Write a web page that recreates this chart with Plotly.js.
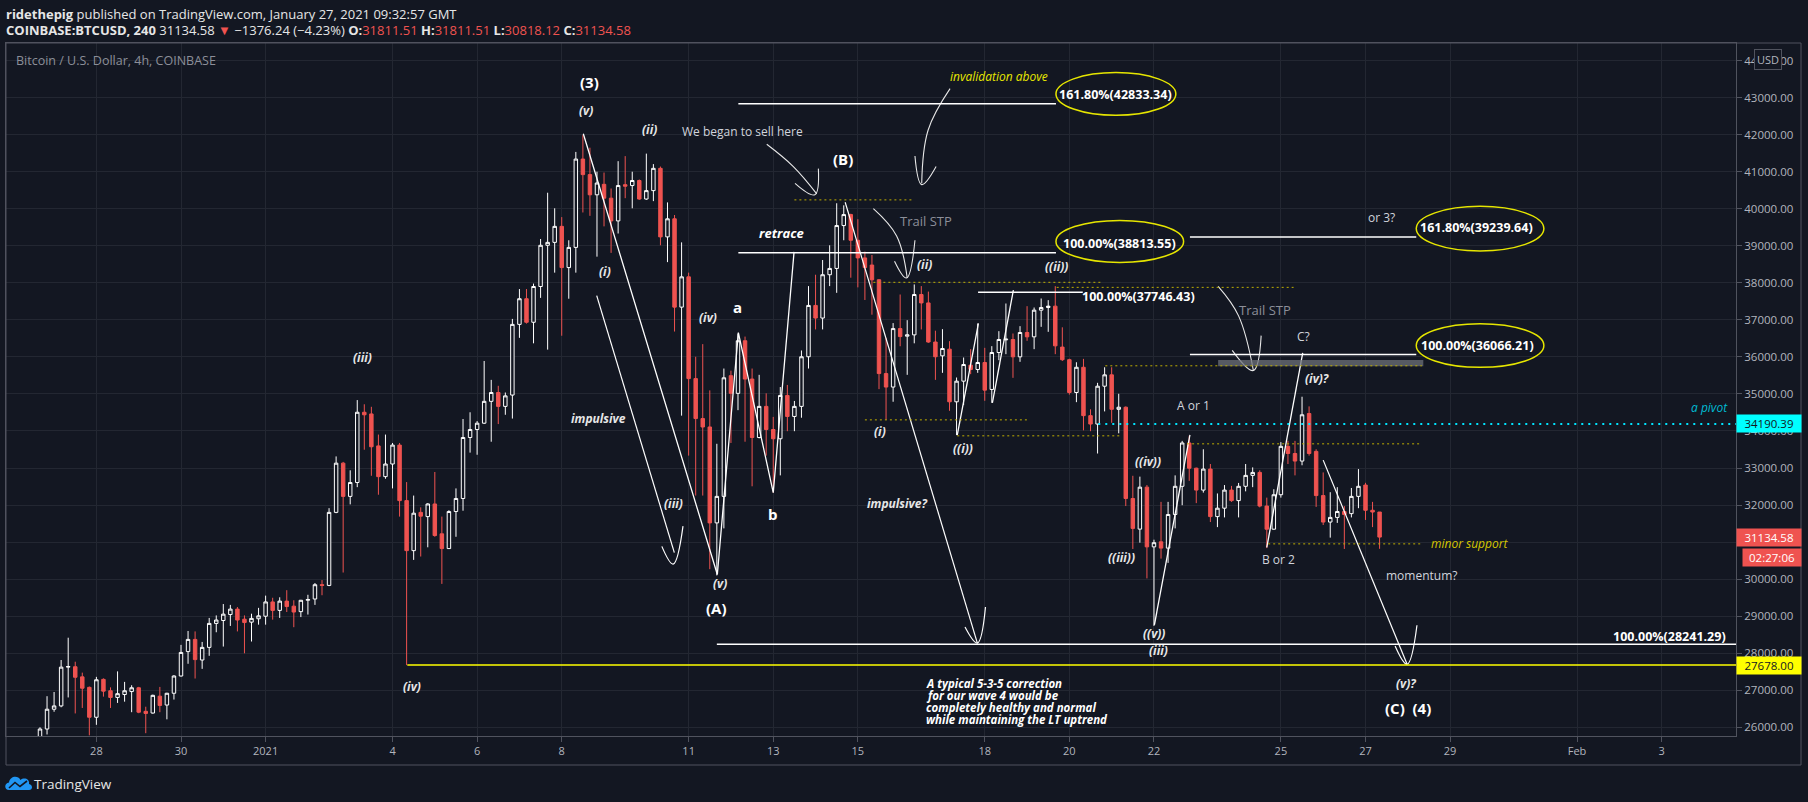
<!DOCTYPE html>
<html><head><meta charset="utf-8">
<script src="https://cdn.plot.ly/plotly-3.0.1.min.js"></script>
<style>html,body{margin:0;padding:0;background:#131722;}#chart{width:1808px;height:802px;}</style>
</head><body><div id="chart"></div>
<script>
// ---------- DATA (4h candles, first candle 2020-12-26 16:00 UTC) ----------
const firstCandle = '2020-12-26T16:00:00Z';
const open = [25720,25953,26487,26576,27623,27634,27361,27077,
26270,27293,26986,26805,26884,26964,27066,26430,26384,26839,26600,26918,
27384,28043,28372,27816,28157,28804,28883,29043,29190,28918,28838,28930,
28998,29384,29156,29406,29270,29122,29429,29463,29850,29830,31802,33131,
32234,32608,34505,34460,33597,32767,33108,33619,32120,30769,31802,31688,
32029,31223,30825,31825,32177,33824,34040,34210,34800,35039,34664,34970,
36878,37571,36935,37901,39014,39093,39525,38412,38957,41342,40922,40377,
40660,40286,39672,40650,40627,40763,40263,40490,41092,39241,39729,37344,
38162,35414,34335,34108,31518,32234,35493,35016,36436,35402,33824,34664,
34040,33790,34959,34392,34664,36004,37390,37049,38219,38389,39547,39843,
39150,38673,38480,38082,35550,35186,36765,36560,36595,37685,37458,36402,
36029,36209,34788,35345,35777,35660,35849,35121,36119,36461,36470,36002,
36659,36542,37262,37334,37370,36265,35925,35039,35720,34414,34187,35209,
35516,34585,34641,32177,31350,32483,30871,31007,30837,31745,32506,33676,
32995,32404,32972,31688,31915,32404,32120,32506,32801,32881,31973,31348,
32279,33585,33392,33188,34471,33449,32256,31541,31666,31825,31768,32234,
32540,31859,31811.51];
const high = [26000,26839,26952,27816,28418,27770,27475,27100,
27361,27320,27077,27509,27225,27134,27090,26555,26880,27089,26930,27406,
28225,28600,28588,28304,28952,29020,29327,29304,29247,29020,29066,29224,
29554,29497,29509,29701,29429,29440,29577,29895,29974,31916,33313,33165,
32938,34834,34721,34653,33903,33903,33676,33676,32620,32256,31938,32052,
32892,31688,31860,32449,34323,34505,34267,35890,35380,35220,35039,37026,
37832,37832,37980,39184,40433,40013,39775,39150,41535,41989,41649,41001,
40978,40547,41285,41421,41001,40790,41489,41206,41140,40172,39831,39093,
38275,36004,36345,35096,33654,35686,35629,36629,36549,35686,35516,35016,
34380,35186,35243,34811,36174,37912,38219,38616,39014,40149,40093,39866,
39718,38843,38752,38100,36515,36913,37685,36992,37957,37912,37764,36708,
36749,36425,35444,35984,36209,36902,36245,36290,36695,37442,36632,36830,
37370,37334,37577,37532,37910,36799,35950,35856,35947,34585,35300,35720,
35720,35005,34664,32790,32767,32540,31064,32086,32086,32801,33733,33869,
33010,33506,33108,32313,32540,32517,32597,33108,33017,32938,32200,32427,
33699,33733,33733,34925,34664,33506,32881,32347,32483,31973,32461,32972,
32600,32086,31811.51];
const low = [25650,25805,26418,26540,26805,26373,26521,25782,
26066,26827,26521,26657,26691,26407,26380,25840,26370,26407,26214,26748,
27370,27714,27316,27577,27929,28565,28179,28736,28588,27997,28315,28770,
28770,28906,28952,29111,28702,28975,29043,29304,29565,29810,31780,30178,
32018,32483,33494,32790,32279,32710,32449,31688,27678,30519,30610,30859,
31143,29871,30814,31143,31847,33415,33358,34190,33710,34187,34437,34335,
36515,36900,36367,37594,36197,38275,36572,37571,38275,39900,39809,38707,
39525,38809,39332,40286,40013,40240,40240,40206,39014,38559,36685,34414,
33335,32256,32256,30269,30099,31370,33676,34562,33710,32506,33800,33335,
32336,32801,33994,33994,34358,35686,36742,36742,37912,37730,39150,38139,
37878,37537,37140,35130,34301,34789,36288,35516,36367,36742,36380,35380,
35570,34545,33888,34698,35534,35570,34815,34761,35912,36074,35435,35867,
36434,36209,36812,36677,36074,35890,34982,34778,34017,33994,33392,34528,
34221,33937,31973,30814,30984,30019,28736,30553,30439,31370,31995,32654,
32052,32336,31541,31404,31666,32086,31666,32370,32483,31938,30837,31336,
32200,33108,32801,33074,33335,31950,31461,31120,31518,30814,31666,31915,
31598,31404,30818.12];
const close = [25953,26487,26576,27623,27640,27350,27054,26270,
27282,26975,26805,26907,26986,27066,26407,26373,26862,26589,26918,27384,
28020,28372,27827,28157,28804,28895,29054,29190,28895,28827,28940,29009,
29384,29156,29406,29259,29111,29429,29450,29849,29830,31802,33131,32234,
32608,34505,34437,33574,32767,33108,33619,32120,30769,31780,31700,32029,
31177,30825,31825,32177,33824,34040,34210,34800,35039,34664,34948,36878,
37571,36935,37901,39014,39093,39525,38412,38957,41342,40922,40377,40695,
40286,39672,40627,40610,40763,40263,40490,41092,39241,39729,37344,38162,
35414,34335,34108,31518,32234,35436,35016,36436,35402,33824,34664,34040,
33790,34959,34392,34664,36004,37390,37049,38219,38389,39547,39843,39150,
38673,38412,38082,35550,35186,36765,36549,36595,37685,37458,36402,36004,
36227,34788,35345,35795,35660,35849,35103,36119,36470,36479,36002,36659,
36542,37262,37334,37370,36299,35925,35039,35720,34414,34187,35209,35516,
34585,34641,32177,31370,32483,30871,30984,30837,31745,32506,33676,32995,
32404,32972,31688,31915,32404,32120,32506,32801,32881,31973,31348,32279,
33585,33392,33188,34437,33392,32256,31541,31666,31825,31745,32234,32506,
31859,31811.51,31134.58];

const tickDates = ['2020-12-28','2020-12-30','2021-01-01','2021-01-04','2021-01-06','2021-01-08','2021-01-11','2021-01-13','2021-01-15','2021-01-18','2021-01-20','2021-01-22','2021-01-25','2021-01-27','2021-01-29','2021-02-01','2021-02-03'];
const tickLabels = ['28','30','2021','4','6','8','11','13','15','18','20','22','25','27','29','Feb','3'];

// drawing levels (prices)
const fibLevels = {f42833:42833.34, f38813:38813.55, f37746:37746.43, f39239:39239.64, f36066:36066.21, f28241:28241.29};
const lowIV = 27678.00, pivotA = 34190.39, lastPrice = 31134.58;

// ---------- helpers ----------
const H4 = 4*3600*1000;
const T0 = Date.parse('2020-12-28T00:00:00Z');   // bar index 0
const fmt = ms => new Date(ms).toISOString().replace('T',' ').slice(0,19);
const K = k => fmt(T0 + k*H4);                     // bar index -> date
const t1 = Date.parse(firstCandle);
const times = open.map((_,i)=>fmt(t1 + i*H4));
const PX = px => (px-6)/1730, PY = py => (736-py)/693;
const F = 'Open Sans, sans-serif';

const traces = [{
  type:'candlestick', x:times, open:open, high:high, low:low, close:close,
  increasing:{line:{color:'#ffffff',width:1}, fillcolor:'#131722'},
  decreasing:{line:{color:'#ef5350',width:1}, fillcolor:'#ef5350'},
  whiskerwidth:0, hoverinfo:'skip', showlegend:false
}];
function poly(pts, color, width, spline){
  traces.push({type:'scatter', mode:'lines', x:pts.map(p=>K(p[0])), y:pts.map(p=>p[1]),
    line:{color:color, width:width, shape: spline?'spline':'linear', smoothing:1.1}, hoverinfo:'skip', showlegend:false});
}
// wave lines
poly([[69.06,42026],[88.07,30123],[91.05,36655],[96.0,32336],[98.95,38835]], '#ffffff', 1.3);
poly([[70.96,37653],[81.97,30714]], '#ffffff', 1.2);
poly([[80.2,30884],[81.8,30407],[83.2,31432]], '#ffffff', 1.2, true);
poly([[106.2,40177],[124.95,28272]], '#ffffff', 1.2);
poly([[123.2,28706],[124.95,28274],[126.1,29246]], '#ffffff', 1.2, true);
poly([[122.1,33888],[125.1,36903]], '#ffffff', 1.3);
poly([[127.08,34760],[130.06,37802]], '#ffffff', 1.3);
poly([[150.06,28763],[155.1,33893]], '#ffffff', 1.3);
poly([[166.0,30860],[171.1,36109]], '#ffffff', 1.3);
poly([[174.0,33213],[185.9,27702]], '#ffffff', 1.2);
poly([[184.2,28193],[185.9,27702],[187.3,28755]], '#ffffff', 1.2, true);
// hand-drawn curved arrows
poly([[95.08,41742],[98.85,41140],[102.17,40404]], '#e8e8e8', 1.1, true);
poly([[99.09,40687],[101.9,40379],[102.4,41084]], '#e8e8e8', 1.1, true);
poly([[121.08,43243],[117.96,42120],[117.06,40687]], '#e8e8e8', 1.1, true);
poly([[116.1,41424],[117.06,40652],[119.1,41140]], '#e8e8e8', 1.1, true);
poly([[110.2,40004],[113.5,39267],[115.0,38131]], '#e8e8e8', 1.1, true);
poly([[113.2,38584],[114.9,38131],[116.1,39151]], '#e8e8e8', 1.1, true);
poly([[159.1,37904],[162.0,37108],[164.1,35632]], '#e8e8e8', 1.1, true);
poly([[161.1,36177],[164.1,35632],[165.2,36574]], '#e8e8e8', 1.1, true);

// ---------- shapes ----------
const shapes = [];
function hl(k0,k1,p,color,width,dash){ shapes.push({type:'line', xref:'x', yref:'y', x0:K(k0), x1:K(k1), y0:p, y1:p, line:{color:color,width:width,dash:dash||'solid'}}); }
hl(91.05,136.1,fibLevels.f42833,'#ffffff',1.5);
hl(91.05,136.1,fibLevels.f38813,'#ffffff',1.5);
hl(125.05,139.9,fibLevels.f37746,'#ffffff',1.5);
hl(155.1,187.2,fibLevels.f39239,'#ffffff',1.5);
hl(155.1,187.2,fibLevels.f36066,'#ffffff',1.5);
hl(88.0,245,fibLevels.f28241,'#ffffff',1.3);
hl(44.1,245,lowIV,'#ffff00',1.5);
hl(142.1,245,pivotA,'#00e5ff',2,'2px,5px');
const dotY = '#bfae00';
hl(99.0,115.9,40240,dotY,1,'2px,3px');
hl(110.2,142.8,38014,dotY,1,'2px,3px');
hl(136.2,169.8,37878,dotY,1,'2px,3px');
hl(109.0,132.2,34300,dotY,1,'2px,3px');
hl(122.1,145.2,33869,dotY,1,'2px,3px');
hl(154.7,188.0,33653,dotY,1,'2px,3px');
hl(166.2,188.0,30952,dotY,1,'2px,3px');
shapes.push({type:'rect', xref:'x', yref:'y', x0:K(159.1), x1:K(188.2), y0:35750, y1:35915, fillcolor:'rgba(110,113,122,0.75)', line:{width:0}});
hl(143.1,188.0,35760,dotY,1,'2px,3px');
function ell(k0,k1,p0,p1){ shapes.push({type:'circle', xref:'x', yref:'y', x0:K(k0), x1:K(k1), y0:p0, y1:p1, line:{color:'#e6e600',width:1.5}}); }
ell(136.1,153.1,42525,43677);
ell(136.1,154.2,38552,39686);
ell(187.2,205.3,38862,40066);
ell(187.2,205.3,35718,36897);
// outer frame around price / time axes
shapes.push({type:'rect', xref:'paper', yref:'paper', x0:0, x1:PX(1801), y0:PY(765), y1:1, line:{color:'#50535e',width:1}});
// TradingView logo cloud
shapes.push({type:'path', xref:'paper', yref:'paper', fillcolor:'#2196f3', line:{width:0},
  path: 'M'+PX(9)+','+PY(790)+' C'+PX(4)+','+PY(790)+' '+PX(4)+','+PY(783)+' '+PX(9)+','+PY(782.5)+
        ' C'+PX(10)+','+PY(776)+' '+PX(18)+','+PY(775)+' '+PX(20.5)+','+PY(780)+
        ' C'+PX(24)+','+PY(777)+' '+PX(30)+','+PY(779)+' '+PX(29)+','+PY(784)+
        ' C'+PX(33)+','+PY(785)+' '+PX(33)+','+PY(790)+' '+PX(29)+','+PY(790)+' Z'});
shapes.push({type:'path', xref:'paper', yref:'paper', line:{color:'#131722',width:1.6},
  path: 'M'+PX(9)+','+PY(788)+' L'+PX(15)+','+PY(782.5)+' L'+PX(20)+','+PY(786.5)+' L'+PX(27)+','+PY(781)});

// ---------- annotations ----------
const ann = [];
function lab(text,k,p,kind,extra){
  const st = {
    it:{size:12,color:'#e6e6e6',pre:'<b><i>',post:'</i></b>'},
    bold:{size:15,color:'#ffffff',pre:'<b>',post:'</b>'},
    reg:{size:12,color:'#d1d4dc',pre:'',post:''},
    gray:{size:13,color:'#8c8f99',pre:'',post:''},
    fib:{size:12.5,color:'#ffffff',pre:'<b>',post:'</b>'},
    yel:{size:12,color:'#e8e800',pre:'<i>',post:'</i>'},
    cyan:{size:12,color:'#00bcd4',pre:'<i>',post:'</i>'},
    blk:{size:11.5,color:'#ffffff',pre:'<b><i>',post:'</i></b>'}
  }[kind];
  ann.push(Object.assign({xref:'x', yref:'y', x:K(k), y:p, text:st.pre+text+st.post, showarrow:false,
    xanchor:'center', yanchor:'middle', font:{family:F,size:st.size,color:st.color}}, extra||{}));
}
lab('(3)',69.87,43416,'bold');
lab('(v)',69.4,42641,'it');
lab('(ii)',78.4,42147,'it');
lab('We began to sell here',91.58,42093,'reg');
lab('(B)',105.9,41345,'bold');
lab('retrace',97.2,39356,'it',{font:{family:F,size:13,color:'#ffffff'}});
lab('invalidation above',127.96,43567,'yel');
lab('Trail STP',117.6,39664,'gray');
lab('(ii)',117.5,38495,'it');
lab('(i)',72.2,38314,'it');
lab('impulsive',71.15,34325,'it');
lab('(iii)',81.83,32031,'it');
lab('(iv)',86.7,37073,'it');
lab('a',91.0,37335,'bold');
lab('b',96.0,31769,'bold');
lab('(v)',88.4,29894,'it');
lab('(A)',88.0,29214,'bold');
lab('(i)',111.15,33985,'it');
lab('((i))',122.9,33529,'it');
lab('impulsive?',113.5,32053,'it');
lab('((ii))',136.2,38439,'it');
lab('100.00%(37746.43)',147.8,37621,'fib');
lab('Trail STP',165.8,37278,'gray');
lab('or 3?',182.2,39756,'reg');
lab('C?',171.2,36563,'reg');
lab('(iv)?',173.1,35405,'it');
lab('A or 1',155.6,34690,'reg');
lab('a pivot',231.7,34644,'cyan',{xanchor:'right'});
lab('((iv))',149.2,33167,'it');
lab('((iii))',145.4,30577,'it');
lab('((v))',150.0,28531,'it');
lab('(iii)',150.7,28077,'it');
lab('B or 2',167.6,30520,'reg');
lab('momentum?',188.0,30099,'reg');
lab('minor support',194.8,30957,'yel',{font:{family:F,size:12,color:'#d6c600'}});
lab('(v)?',185.8,27191,'it');
lab('(C)&nbsp;&nbsp;(4)',186.0,26509,'bold');
lab('(iii)',37.8,35980,'it');
lab('(iv)',44.7,27113,'it');
lab('A typical 5-3-5 correction',117.4,27195,'blk',{xanchor:'left'});
lab('for our wave 4 would be',117.4,26863,'blk',{xanchor:'left'});
lab('completely healthy and normal',117.4,26544,'blk',{xanchor:'left'});
lab('while maintaining the LT uptrend',117.4,26215,'blk',{xanchor:'left'});
lab('100.00%(28241.29)',231.4,28463,'fib',{xanchor:'right'});
lab('161.80%(42833.34)',144.6,43073,'fib');
lab('100.00%(38813.55)',145.05,39062,'fib');
lab('161.80%(39239.64)',195.8,39489,'fib');
lab('100.00%(36066.21)',195.9,36296,'fib');

// price-axis tags
function tag(text,p,bg,fg,x,w){ ann.push({xref:'paper', yref:'y', x:x, y:p, xanchor:'left', yanchor:'middle', text:text, showarrow:false,
  bgcolor:bg, width:w, height:15, borderpad:1, font:{family:F,size:11.5,color:fg}}); }
tag(pivotA.toFixed(2), pivotA, '#00ffff', '#131722', 1.0, 62);
tag(lastPrice.toFixed(2), lastPrice, '#ef5350', '#ffffff', 1.0, 62);
tag(lowIV.toFixed(2), lowIV, '#ffff00', '#131722', 1.0, 62);
ann.push({xref:'paper', yref:'paper', x:PX(1742), y:PY(557), xanchor:'left', yanchor:'middle', text:'02:27:06', showarrow:false,
  bgcolor:'#ef5350', width:56, height:15, borderpad:1, font:{family:F,size:11.5,color:'#ffffff'}});
ann.push({xref:'paper', yref:'paper', x:PX(1768), y:PY(60), xanchor:'center', yanchor:'middle', text:'USD', showarrow:false,
  bgcolor:'#131722', bordercolor:'#50535e', borderwidth:1, borderpad:2, font:{family:F,size:11,color:'#b2b5be'}});

// header / title / footer
ann.push({xref:'paper', yref:'paper', x:PX(4), y:PY(13.5), xanchor:'left', yanchor:'middle', showarrow:false,
  text:'<b>ridethepig</b> published on TradingView.com, January 27, 2021 09:32:57 GMT', font:{family:F,size:13,color:'#e6e6e6'}});
const R = s=>'<span style="color:#ef5350">'+s+'</span>';
ann.push({xref:'paper', yref:'paper', x:PX(4), y:PY(30.5), xanchor:'left', yanchor:'middle', showarrow:false,
  text:'<b>COINBASE:BTCUSD, 240</b> 31134.58 '+R('▼')+' −1376.24 (−4.23%) <b>O:</b>'+R('31811.51')+' <b>H:</b>'+R('31811.51')+' <b>L:</b>'+R('30818.12')+' <b>C:</b>'+R('31134.58'),
  font:{family:F,size:13,color:'#e6e6e6'}});
ann.push({xref:'paper', yref:'paper', x:PX(14), y:PY(60.7), xanchor:'left', yanchor:'middle', showarrow:false,
  text:'Bitcoin / U.S. Dollar, 4h, COINBASE', font:{family:F,size:12.5,color:'#8c8f99'}});
ann.push({xref:'paper', yref:'paper', x:PX(32), y:PY(784), xanchor:'left', yanchor:'middle', showarrow:false,
  text:'TradingView', font:{family:F,size:13.5,color:'#e6e6e6'}});

const layout = {
  width:1808, height:802, paper_bgcolor:'#131722', plot_bgcolor:'#131722',
  margin:{l:6, r:72, t:43, b:66}, showlegend:false, dragmode:false,
  xaxis:{type:'date', range:['2020-12-25 20:43','2021-02-04 18:12'], tickmode:'array', tickvals:tickDates, ticktext:tickLabels,
    tickfont:{family:F,size:11,color:'#b2b5be'}, gridcolor:'#232732', gridwidth:1, showline:true, mirror:true, linecolor:'#50535e',
    ticks:'outside', ticklen:5, tickcolor:'#50535e', rangeslider:{visible:false}, zeroline:false, fixedrange:true},
  yaxis:{side:'right', range:[25764,44476], tickmode:'linear', tick0:0, dtick:1000, tickformat:'.2f',
    tickfont:{family:F,size:11.5,color:'#b2b5be'}, gridcolor:'#232732', gridwidth:1, showline:true, mirror:true, linecolor:'#50535e',
    ticks:'outside', ticklen:5, tickcolor:'#50535e', zeroline:false, fixedrange:true},
  shapes:shapes, annotations:ann
};
Plotly.newPlot('chart', traces, layout, {staticPlot:true, displayModeBar:false});
</script>
</body></html>
